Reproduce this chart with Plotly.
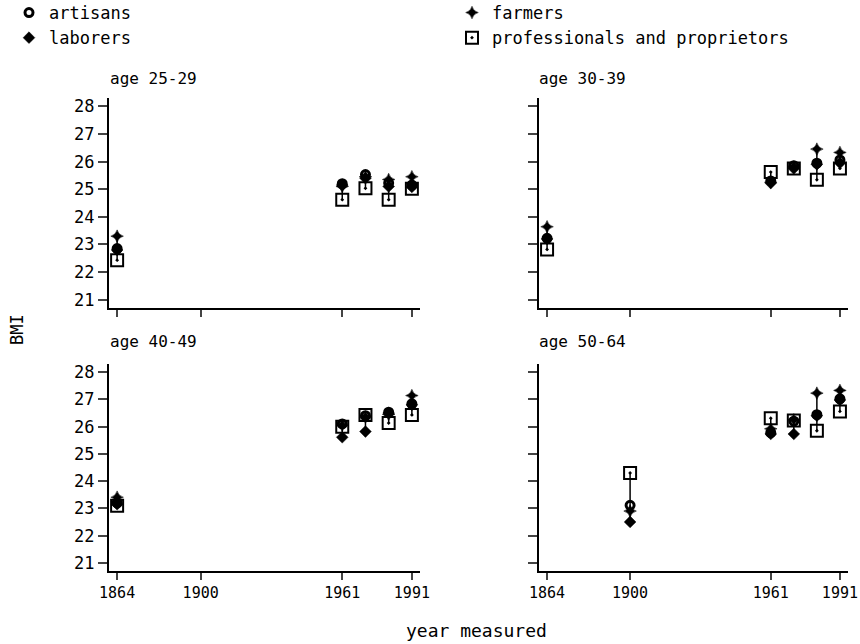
import plotly.graph_objects as go

years = [1864, 1900, 1961, 1971, 1981, 1991]
tick_years = [1864, 1900, 1961, 1991]
bmi_ticks = [21, 22, 23, 24, 25, 26, 27, 28]
panel_titles = ["age 25-29", "age 30-39", "age 40-49", "age 50-64"]
series_names = ["artisans", "farmers", "laborers", "professionals and proprietors"]
series_legend = ["legend", "legend2", "legend", "legend2"]

# age 25-29
artisans_25_29 = [22.85, None, 25.20, 25.53, 25.22, 25.15]
farmers_25_29 = [23.30, None, 25.10, 25.45, 25.35, 25.45]
laborers_25_29 = [22.80, None, 25.15, 25.40, 25.10, 25.08]
professionals_25_29 = [22.43, None, 24.62, 25.03, 24.62, 25.02]

# age 30-39
artisans_30_39 = [23.22, None, 25.30, 25.85, 25.94, 26.06]
farmers_30_39 = [23.64, None, 25.25, 25.80, 26.45, 26.33]
laborers_30_39 = [23.20, None, 25.22, 25.75, 25.90, 25.95]
professionals_30_39 = [22.82, None, 25.62, 25.75, 25.34, 25.75]

# age 40-49
artisans_40_49 = [23.20, None, 26.10, 26.40, 26.53, 26.84]
farmers_40_49 = [23.41, None, 26.05, 26.35, 26.45, 27.14]
laborers_40_49 = [23.15, None, 25.61, 25.82, 26.50, 26.80]
professionals_40_49 = [23.10, None, 26.00, 26.43, 26.13, 26.43]

# age 50-64
artisans_50_64 = [None, 23.11, 25.78, 26.20, 26.44, 27.02]
farmers_50_64 = [None, 22.90, 25.92, 26.25, 27.23, 27.33]
laborers_50_64 = [None, 22.50, 25.73, 25.73, 26.40, 26.98]
professionals_50_64 = [None, 24.30, 26.31, 26.23, 25.85, 26.56]

panels = [
    [artisans_25_29, farmers_25_29, laborers_25_29, professionals_25_29],
    [artisans_30_39, farmers_30_39, laborers_30_39, professionals_30_39],
    [artisans_40_49, farmers_40_49, laborers_40_49, professionals_40_49],
    [artisans_50_64, farmers_50_64, laborers_50_64, professionals_50_64],
]

FONT = "DejaVu Sans Mono"
W, H = 860, 644

marker_styles = [
    dict(symbol="circle-open", size=8, color="black", line=dict(width=3, color="black")),
    dict(symbol="star-diamond", size=9, color="black", line=dict(width=0.5, color="black")),
    dict(symbol="diamond", size=9, color="black", line=dict(width=0.5, color="black")),
    dict(symbol="square-open-dot", size=12, color="black", line=dict(width=2, color="black")),
]

# pixel geometry of the panels
x_dom_px = [(109, 420), (539, 848)]
y_dom_px = [(98, 308), (364, 571)]

fig = go.Figure()

for p, series in enumerate(panels):
    row, col = divmod(p, 2)
    idx = "" if p == 0 else str(p + 1)
    xa, ya = "x" + idx, "y" + idx
    # vertical connecting lines: min to max of each year
    lx, ly = [], []
    for i, yr in enumerate(years):
        vals = [s[i] for s in series if s[i] is not None]
        if len(vals) >= 2:
            lx += [yr, yr, None]
            ly += [min(vals), max(vals), None]
    fig.add_trace(go.Scatter(x=lx, y=ly, mode="lines", line=dict(color="black", width=1.5),
                             xaxis=xa, yaxis=ya, showlegend=False, hoverinfo="skip"))
    for s_i, s in enumerate(series):
        fig.add_trace(go.Scatter(x=years, y=s, mode="markers", name=series_names[s_i],
                                 marker=marker_styles[s_i], xaxis=xa, yaxis=ya,
                                 legend=series_legend[s_i], showlegend=(p == 0)))
    x0, x1 = x_dom_px[col]
    y0, y1 = y_dom_px[row]
    fig.layout["xaxis" + idx] = dict(
        domain=[x0 / W, x1 / W], anchor=ya, range=[1860.5, 1994.5], automargin=False,
        tickmode="array", tickvals=tick_years, ticks="outside", ticklen=7, tickwidth=1.5,
        showticklabels=(row == 1), showline=True, linecolor="black", linewidth=2,
        showgrid=False, zeroline=False, tickfont=dict(family=FONT, size=15, color="black"))
    fig.layout["yaxis" + idx] = dict(
        domain=[1 - y1 / H, 1 - y0 / H], anchor=xa, range=[20.7, 28.3], automargin=False,
        tickmode="array", tickvals=bmi_ticks, ticks="outside", ticklen=9, tickwidth=1.5,
        showticklabels=(col == 0), showline=True, linecolor="black", linewidth=2,
        showgrid=False, zeroline=False, tickfont=dict(family=FONT, size=17, color="black"))
    fig.add_annotation(text=panel_titles[p], xref="paper", yref="paper",
                       x=(108 if col == 0 else 537) / W, y=1 - (78 if row == 0 else 342) / H,
                       xanchor="left", yanchor="middle", showarrow=False,
                       font=dict(family=FONT, size=16, color="black"))

fig.add_annotation(text="BMI", xref="paper", yref="paper", x=17 / W, y=1 - 330 / H,
                   textangle=-90, showarrow=False, xanchor="center", yanchor="middle",
                   font=dict(family=FONT, size=17, color="black"))
fig.add_annotation(text="year measured", xref="paper", yref="paper", x=476 / W, y=1 - 630 / H,
                   showarrow=False, xanchor="center", yanchor="middle",
                   font=dict(family=FONT, size=18, color="black"))

legend_common = dict(orientation="v", xanchor="left", yanchor="top", traceorder="normal",
                     font=dict(family=FONT, size=17, color="black"), itemsizing="trace",
                     bgcolor="rgba(0,0,0,0)", tracegroupgap=0)

fig.update_layout(
    width=W, height=H, margin=dict(l=0, r=0, t=0, b=0, autoexpand=False),
    paper_bgcolor="white", plot_bgcolor="white",
    font=dict(family=FONT, color="black"),
    legend=dict(x=9 / W, y=1 + 5 / H, **legend_common),
    legend2=dict(x=452 / W, y=1 + 5 / H, **legend_common),
)

fig.write_html("out.html", config={"displayModeBar": False},
               post_script="document.body.style.margin='0';")
